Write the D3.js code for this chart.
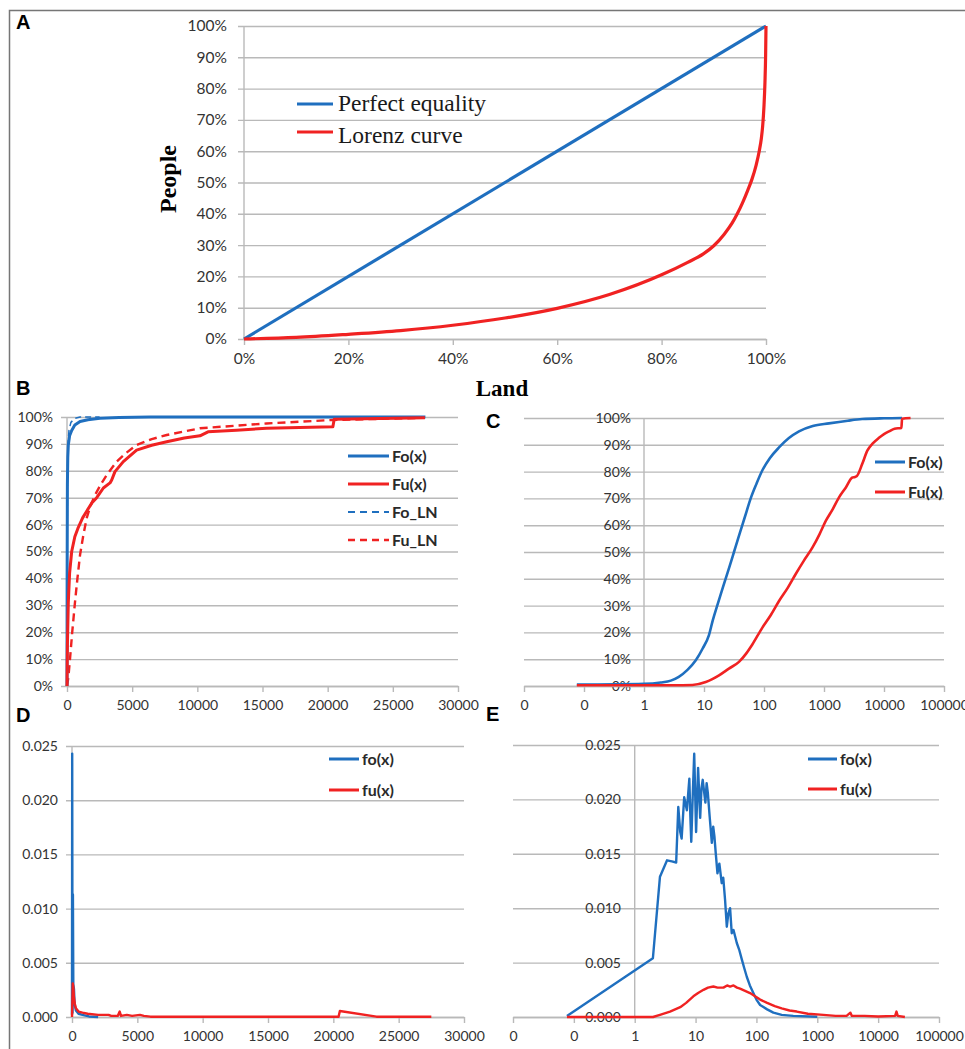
<!DOCTYPE html>
<html>
<head>
<meta charset="utf-8">
<script src="https://cdn.jsdelivr.net/npm/d3@7"></script>
<style>
body { margin: 0; background: #fff; }
svg { display: block; }
.tick text { font-family: Lato, "Open Sans", sans-serif; fill: #333; }
.legend text { font-family: Lato, "Open Sans", sans-serif; font-weight: bold; fill: #2a2a2a; }
</style>
</head>
<body>
<div id="chart"></div>
<script>
// ---- data ----
const PCT_TICKS = [0, 0.1, 0.2, 0.3, 0.4, 0.5, 0.6, 0.7, 0.8, 0.9, 1];
const PCT_LABELS = ["0%", "10%", "20%", "30%", "40%", "50%", "60%", "70%", "80%", "90%", "100%"];
const A_X_TICKS = [0, 0.2, 0.4, 0.6, 0.8, 1];
const A_X_LABELS = ["0%", "20%", "40%", "60%", "80%", "100%"];
const LIN_X_TICKS = [0, 5000, 10000, 15000, 20000, 25000, 30000];
const LIN_X_LABELS = ["0", "5000", "10000", "15000", "20000", "25000", "30000"];
const LOG_X_TICKS = [0.01, 0.1, 1, 10, 100, 1000, 10000, 100000];
const LOG_X_LABELS = ["0", "0", "1", "10", "100", "1000", "10000", "100000"];
const DENS_TICKS = [0, 0.005, 0.01, 0.015, 0.02, 0.025];
const DENS_LABELS = ["0.000", "0.005", "0.010", "0.015", "0.020", "0.025"];

// A: share of land vs share of people
const EQUALITY = [[0, 0], [1, 1]];
const LORENZ = [[0, 0], [0.1, 0.005], [0.2, 0.015], [0.3, 0.027], [0.4, 0.044], [0.5, 0.067],
  [0.6, 0.098], [0.7, 0.142], [0.8, 0.205], [0.85, 0.245], [0.88, 0.272], [0.9, 0.298],
  [0.92, 0.335], [0.935, 0.37], [0.945, 0.4], [0.955, 0.435], [0.965, 0.475], [0.973, 0.51],
  [0.981, 0.555], [0.987, 0.6], [0.991, 0.64], [0.9936, 0.68], [0.996, 0.74], [0.998, 0.82],
  [0.9993, 0.91], [1, 1]];

// B: cumulative distributions, linear x
const FO_B = [[0, 0], [10, 0.4], [30, 0.75], [60, 0.85], [100, 0.896], [200, 0.93], [360, 0.95],
  [600, 0.97], [1000, 0.983], [1600, 0.99], [2530, 0.995], [4000, 0.998], [6370, 1], [27500, 1]];
const FU_B = [[0, 0], [30, 0.15], [100, 0.31], [200, 0.42], [360, 0.5], [600, 0.555], [870, 0.59],
  [1200, 0.625], [1510, 0.65], [1900, 0.68], [2280, 0.7], [2790, 0.736], [3300, 0.755],
  [3430, 0.766], [3680, 0.797], [4320, 0.834], [5340, 0.877], [6500, 0.895], [7650, 0.908],
  [9000, 0.922], [10200, 0.93], [10820, 0.945], [13000, 0.951], [15300, 0.958], [20400, 0.964],
  [20500, 0.992], [27460, 0.997]];
const FO_LN_B = [[0, 0], [5, 0.2], [15, 0.5], [40, 0.8], [80, 0.9], [150, 0.95], [300, 0.98],
  [600, 0.995], [1000, 1], [2500, 1]];
const FU_LN_B = [[0, 0], [100, 0.03], [230, 0.1], [400, 0.2], [610, 0.31], [800, 0.4], [1000, 0.487],
  [1250, 0.56], [1510, 0.624], [1800, 0.67], [2150, 0.71], [2600, 0.75], [3040, 0.784],
  [3810, 0.834], [4500, 0.865], [5340, 0.896], [6500, 0.918], [7650, 0.933], [10200, 0.958],
  [15300, 0.976], [20400, 0.989], [27460, 0.997]];

// C: cumulative distributions, log x
const FO_C = [[0.076, 0.005], [1, 0.008], [1.9, 0.013], [2.8, 0.02], [3.8, 0.034], [5.3, 0.06],
  [7.3, 0.096], [9.5, 0.14], [12.1, 0.19], [14, 0.245], [16.6, 0.3], [19.5, 0.35], [22.9, 0.4],
  [27, 0.45], [31.6, 0.5], [37, 0.55], [43.5, 0.6], [51, 0.65], [60, 0.7], [75, 0.755], [94, 0.805],
  [125, 0.85], [178, 0.89], [260, 0.925], [383, 0.95], [650, 0.97], [1210, 0.98], [2500, 0.99],
  [4330, 0.996], [10000, 0.999], [20000, 1]];
const FU_C = [[0.076, 0.003], [1, 0.003], [3, 0.003], [6.4, 0.004], [10.7, 0.015], [17.8, 0.04],
  [26, 0.065], [38.3, 0.09], [50, 0.12], [63.9, 0.155], [94, 0.218], [130, 0.265], [178, 0.317],
  [250, 0.367], [336, 0.417], [460, 0.467], [640, 0.516], [840, 0.566], [1070, 0.616],
  [1400, 0.66], [1780, 0.704], [2300, 0.74], [2970, 0.778], [3300, 0.78], [3550, 0.784],
  [4330, 0.828], [5270, 0.878], [6500, 0.905], [8250, 0.926], [10000, 0.94], [12100, 0.95],
  [15000, 0.96], [19500, 0.963], [20000, 0.997], [27700, 1]];

// D: densities, linear x
const FO_D = [[0, 0.0002], [15, 0.0243], [40, 0.0004], [70, 0.0113], [100, 0.003], [150, 0.0026],
  [200, 0.0012], [300, 0.0006], [500, 0.0003], [800, 0.0002], [1300, 0.00005], [2000, 0]];
const FU_D = [[0, 0], [60, 0.0031], [100, 0.0028], [150, 0.0018], [220, 0.0012], [300, 0.0008],
  [500, 0.0005], [800, 0.0004], [1200, 0.0003], [2000, 0.0002], [2800, 0.0002], [3000, 0.0001],
  [3500, 0.0001], [3650, 0.0005], [3750, 0.0001], [4200, 0.0002], [4600, 0.0001], [5200, 0.0002],
  [5500, 0.0001], [6000, 0.00003], [20400, 0.00003], [20500, 0.00055], [23300, 0.00003],
  [27500, 0.00003]];

// E: densities, log x
const FO_E = [[0.077, 0.0001], [1.99, 0.0054], [2.6, 0.0129], [3.4, 0.0144], [4.07, 0.0143],
  [4.8, 0.0142], [5.2, 0.0193], [5.6, 0.017], [5.9, 0.0164], [6.5, 0.0202], [7.2, 0.019],
  [7.9, 0.0219], [8.2, 0.0185], [8.5, 0.0161], [9, 0.0205], [9.5, 0.0242], [10.2, 0.017],
  [10.6, 0.02], [11, 0.0229], [11.9, 0.0183], [12.5, 0.021], [13.1, 0.0218], [14.5, 0.0197],
  [15.2, 0.0215], [15.9, 0.0206], [17, 0.0185], [18.5, 0.016], [19.5, 0.0175], [20.4, 0.0166],
  [21.5, 0.015], [22.9, 0.0132], [24.6, 0.0141], [26.9, 0.0123], [28.5, 0.0128], [30.5, 0.0108],
  [32.6, 0.0083], [34.5, 0.0095], [36.9, 0.01], [39.3, 0.0077], [42, 0.008], [47.6, 0.0068],
  [52, 0.0062], [57.5, 0.0053], [63, 0.0045], [69.4, 0.0037], [78, 0.0029], [89, 0.0022],
  [100, 0.0016], [115, 0.0011], [150, 0.0007], [190, 0.0004], [260, 0.0002], [403, 0.0001],
  [1000, 0.00002]];
const FU_E = [[0.077, 0], [2, 0], [2.6, 0.0002], [3.8, 0.0005], [5.6, 0.0009], [7, 0.0013],
  [9.2, 0.0019], [11, 0.0022], [13.5, 0.0025], [16, 0.0027], [19.6, 0.0028], [23, 0.0027],
  [28.7, 0.0027], [33, 0.0029], [36.9, 0.0028], [42, 0.0029], [48, 0.0027], [53.8, 0.0026],
  [65, 0.0024], [78.5, 0.0022], [95, 0.0019], [115, 0.0016], [150, 0.0013], [200, 0.001],
  [260, 0.0008], [350, 0.0006], [460, 0.0005], [700, 0.0003], [1260, 0.0002], [2000, 0.0001],
  [3030, 0.0001], [3500, 0.0004], [3700, 0.0001], [6000, 0.0001], [10000, 0.00005],
  [19000, 0.0001], [20000, 0.0005], [21000, 0.0001], [27500, 0]];

// ---- drawing ----
const GRID = "#b9b9b9";
const BLUE = "#1f6fbf";
const RED = "#f02222";

const svg = d3.select("#chart").append("svg")
    .attr("width", 965)
    .attr("height", 1049);

// figure frame (top and left edge only, as in the scan)
svg.append("path")
    .attr("d", "M9.5,1049V10.5H965")
    .attr("fill", "none")
    .attr("stroke", "#767676")
    .attr("stroke-width", 1.5);

const panelLetter = (x, y, txt) => {
    svg.append("text")
        .attr("x", x).attr("y", y)
        .attr("font-family", "'Liberation Sans', Arial, sans-serif")
        .attr("font-weight", "bold")
        .attr("font-size", 20)
        .text(txt);
};

const drawPanel = (p) => {
    const g = svg.append("g");
    const [xl, xr] = p.x.range();
    const [yb, yt] = p.y.range();
    // horizontal gridlines
    g.append("g")
        .attr("transform", `translate(${xr},0)`)
        .call(d3.axisLeft(p.y).tickValues(p.yTicks).tickSize(xr - p.gridLeft).tickFormat(""))
        .call(s => s.select(".domain").remove())
        .call(s => s.selectAll("line").attr("stroke", GRID).attr("stroke-width", 1.4));
    // vertical axis line
    g.append("line")
        .attr("x1", p.axisX).attr("x2", p.axisX)
        .attr("y1", yb).attr("y2", yt)
        .attr("stroke", GRID).attr("stroke-width", 1.4);
    // y tick labels
    g.append("g")
        .attr("transform", `translate(${p.labelX},0)`)
        .call(d3.axisLeft(p.y).tickValues(p.yTicks).tickSize(0).tickPadding(0)
            .tickFormat((d, i) => p.yLabels[i]))
        .call(s => s.select(".domain").remove())
        .selectAll("text").attr("font-size", p.fs);
    // x axis
    g.append("g")
        .attr("transform", `translate(0,${yb})`)
        .call(d3.axisBottom(p.x).tickValues(p.xTicks).tickSize(6).tickSizeOuter(0).tickPadding(8)
            .tickFormat((d, i) => p.xLabels[i]))
        .call(s => s.select(".domain").attr("stroke", GRID).attr("stroke-width", 1.4))
        .call(s => s.selectAll(".tick line").attr("stroke", GRID).attr("stroke-width", 1.4))
        .selectAll("text").attr("font-size", p.fs);
    return p;
};

const drawSeries = (p, data, color, width, dash, curve) => {
    const line = d3.line()
        .x(d => p.x(d[0]))
        .y(d => p.y(d[1]))
        .curve(curve || d3.curveLinear);
    svg.append("path")
        .datum(data)
        .attr("d", line)
        .attr("fill", "none")
        .attr("stroke", color)
        .attr("stroke-width", width)
        .attr("stroke-linejoin", "round")
        .attr("stroke-dasharray", dash || null);
};

const drawLegend = (items, x0, x1, ys, fs) => {
    const g = svg.append("g").attr("class", "legend");
    items.forEach((it, i) => {
        g.append("line")
            .attr("x1", x0).attr("x2", x1)
            .attr("y1", ys[i]).attr("y2", ys[i])
            .attr("stroke", it.color)
            .attr("stroke-width", it.width || 3)
            .attr("stroke-dasharray", it.dash || null);
        g.append("text")
            .attr("x", x1 + 3).attr("y", ys[i])
            .attr("dy", "0.36em")
            .attr("font-size", fs)
            .text(it.label);
    });
};

// ---- panel A ----
panelLetter(16, 29, "A");
const pA = drawPanel({
    x: d3.scaleLinear([0, 1], [244, 766]),
    y: d3.scaleLinear([0, 1], [339, 26]),
    yTicks: PCT_TICKS, yLabels: PCT_LABELS,
    xTicks: A_X_TICKS, xLabels: A_X_LABELS,
    gridLeft: 238, axisX: 244, labelX: 227, fs: 15.5
});
drawSeries(pA, EQUALITY, BLUE, 3.2);
drawSeries(pA, LORENZ, RED, 3.2, null, d3.curveMonotoneX);
svg.append("text")
    .attr("transform", "translate(176,179) rotate(-90)")
    .attr("text-anchor", "middle")
    .attr("font-family", "'Liberation Serif', 'Times New Roman', serif")
    .attr("font-weight", "bold")
    .attr("font-size", 24)
    .text("People");
svg.append("text")
    .attr("x", 502).attr("y", 396)
    .attr("text-anchor", "middle")
    .attr("font-family", "'Liberation Serif', 'Times New Roman', serif")
    .attr("font-weight", "bold")
    .attr("font-size", 23)
    .text("Land");
const legA = svg.append("g")
    .attr("font-family", "'Liberation Serif', 'Times New Roman', serif")
    .attr("font-size", 23.5)
    .attr("fill", "#1a1a1a");
[["Perfect equality", BLUE, 104, 111], ["Lorenz curve", RED, 132, 143]].forEach(([label, c, ly, ty]) => {
    legA.append("line").attr("x1", 297).attr("x2", 333).attr("y1", ly).attr("y2", ly)
        .attr("stroke", c).attr("stroke-width", 3.2);
    legA.append("text").attr("x", 338).attr("y", ty).text(label);
});

// ---- panel B ----
panelLetter(16, 395, "B");
const pB = drawPanel({
    x: d3.scaleLinear([0, 30000], [67, 458]),
    y: d3.scaleLinear([0, 1], [686, 417]),
    yTicks: PCT_TICKS, yLabels: PCT_LABELS,
    xTicks: LIN_X_TICKS, xLabels: LIN_X_LABELS,
    gridLeft: 61, axisX: 67, labelX: 53, fs: 14
});
drawSeries(pB, FO_LN_B, BLUE, 1.5, "6,4");
drawSeries(pB, FU_LN_B, RED, 2.4, "8,5");
drawSeries(pB, FO_B, BLUE, 3);
drawSeries(pB, FU_B, RED, 3);
drawLegend([
    { label: "Fo(x)", color: BLUE },
    { label: "Fu(x)", color: RED },
    { label: "Fo_LN", color: BLUE, width: 2, dash: "7,5" },
    { label: "Fu_LN", color: RED, width: 2.4, dash: "7,5" }
], 348, 389, [456, 484, 512, 540], 16);

// ---- panel C ----
panelLetter(486, 428, "C");
const xC = d3.scaleLog([0.01, 100000], [524, 944]);
const pC = drawPanel({
    x: xC,
    y: d3.scaleLinear([0, 1], [686, 418]),
    yTicks: PCT_TICKS, yLabels: PCT_LABELS,
    xTicks: LOG_X_TICKS, xLabels: LOG_X_LABELS,
    gridLeft: 524, axisX: xC(1), labelX: 631, fs: 14
});
drawSeries(pC, FO_C, BLUE, 2.6, null, d3.curveMonotoneX);
drawSeries(pC, FU_C, RED, 2.6, null, d3.curveMonotoneX);
drawLegend([
    { label: "Fo(x)", color: BLUE },
    { label: "Fu(x)", color: RED }
], 875, 905, [462, 492], 16);

// ---- panel D ----
panelLetter(16, 722, "D");
const pD = drawPanel({
    x: d3.scaleLinear([0, 30000], [72, 464]),
    y: d3.scaleLinear([0, 0.025], [1017, 746]),
    yTicks: DENS_TICKS, yLabels: DENS_LABELS,
    xTicks: LIN_X_TICKS, xLabels: LIN_X_LABELS,
    gridLeft: 66, axisX: 72, labelX: 58, fs: 14
});
drawSeries(pD, FO_D, BLUE, 2.4);
drawSeries(pD, FU_D, RED, 2.4);
drawLegend([
    { label: "fo(x)", color: BLUE },
    { label: "fu(x)", color: RED }
], 329, 359, [759, 790], 16);

// ---- panel E ----
panelLetter(486, 721, "E");
const xE = d3.scaleLog([0.01, 100000], [513, 939]);
const pE = drawPanel({
    x: xE,
    y: d3.scaleLinear([0, 0.025], [1017, 745]),
    yTicks: DENS_TICKS, yLabels: DENS_LABELS,
    xTicks: LOG_X_TICKS, xLabels: LOG_X_LABELS,
    gridLeft: 513, axisX: xE(1), labelX: 621, fs: 14
});
drawSeries(pE, FO_E, BLUE, 2.4);
drawSeries(pE, FU_E, RED, 2.4);
drawLegend([
    { label: "fo(x)", color: BLUE },
    { label: "fu(x)", color: RED }
], 808, 837, [759, 789], 16);
</script>
</body>
</html>
